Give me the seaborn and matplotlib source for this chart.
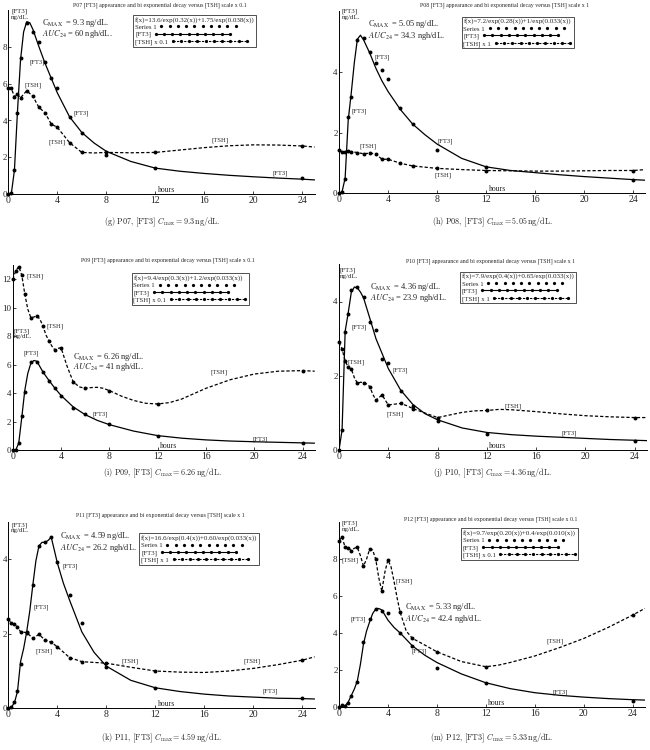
import matplotlib
matplotlib.use("Agg")
import matplotlib.pyplot as plt
import seaborn as sns
import pandas as pd
from matplotlib.lines import Line2D

sns.set_theme(style="ticks")
plt.rcParams['font.family'] = ['Liberation Serif', 'DejaVu Serif']
plt.rcParams['mathtext.fontset'] = 'stix'

# ---------------- data ----------------
hours = [0, 0.25, 0.5, 0.75, 1, 1.5, 2, 2.5, 3, 3.5, 4, 5, 6, 8, 12, 24]
x_ticks = [0, 4, 8, 12, 16, 20, 24]

# P07
p07_ft3 = [0, 0.05, 1.3, 4.42, 7.4, 9.3, 8.77, 8.23, 7.18, 6.28, 5.78, 4.17, 3.34, 2.13, 1.41, 0.9]
p07_tsh = [5.74, 5.74, 5.29, 5.42, 5.23, 5.61, 5.32, 4.71, 4.42, 3.81, 3.63, 2.8, 2.27, 2.27, 2.27, 2.62]
p07_fit_t = [0, 0.25, 0.5, 0.75, 1, 1.25, 1.5, 1.75, 2, 2.5, 3, 3.5, 4, 5, 6, 7, 8, 10, 12, 14, 16, 18, 20, 22, 24, 25]
p07_fit_v = [0, 0.05, 1.3, 4.5, 7.3, 8.8, 9.35, 9.3, 8.95, 8.0, 7.1, 6.3, 5.5, 4.2, 3.35, 2.78, 2.33, 1.78, 1.42, 1.25, 1.13, 1.03, 0.95, 0.88, 0.82, 0.78]
p07_tshc_t = [0, 0.25, 0.5, 0.75, 1, 1.5, 2, 2.5, 3, 3.5, 4, 5, 6, 7, 8, 10, 12, 14, 16, 18, 20, 22, 24, 25]
p07_tshc_v = [5.74, 5.74, 5.29, 5.42, 5.23, 5.61, 5.32, 4.71, 4.42, 3.81, 3.63, 2.8, 2.27, 2.24, 2.27, 2.25, 2.27, 2.4, 2.53, 2.63, 2.68, 2.67, 2.62, 2.56]

# P08
p08_ft3 = [0, 0.05, 0.47, 2.5, 3.18, 5.05, 5.1, 4.64, 4.28, 4.04, 3.77, 2.82, 2.28, 1.42, 0.88, 0.44]
p08_tsh = [1.41, 1.37, 1.37, 1.39, 1.37, 1.34, 1.30, 1.32, 1.30, 1.12, 1.12, 0.99, 0.90, 0.82, 0.75, 0.75]
p08_fit_t = [0, 0.25, 0.5, 0.75, 1, 1.25, 1.5, 1.75, 2, 2.5, 3, 3.5, 4, 5, 6, 7, 8, 10, 12, 14, 16, 18, 20, 22, 24, 25]
p08_fit_v = [0, 0.05, 0.5, 2.4, 3.3, 4.3, 5.07, 5.2, 5.05, 4.62, 4.12, 3.7, 3.35, 2.76, 2.28, 1.93, 1.62, 1.15, 0.87, 0.75, 0.68, 0.61, 0.55, 0.5, 0.45, 0.43]
p08_tshc_t = [0, 0.25, 0.5, 0.75, 1, 1.5, 2, 2.5, 3, 3.5, 4, 5, 6, 8, 10, 12, 14, 16, 18, 20, 22, 24, 25]
p08_tshc_v = [1.41, 1.37, 1.37, 1.39, 1.37, 1.34, 1.30, 1.32, 1.30, 1.12, 1.12, 0.99, 0.90, 0.82, 0.78, 0.75, 0.74, 0.73, 0.73, 0.74, 0.75, 0.75, 0.78]

# P09
p09_ft3 = [0, 0.02, 0.54, 2.43, 4.12, 6.18, 6.2, 5.47, 4.87, 4.4, 3.84, 2.99, 2.53, 1.82, 1.0, 0.54]
p09_tsh = [12.0, 12.58, 12.89, 12.3, 10.97, 9.31, 9.43, 8.73, 7.67, 7.04, 7.2, 4.82, 4.35, 4.19, 3.25, 5.59]
p09_fit_t = [0, 0.25, 0.5, 0.75, 1, 1.25, 1.5, 1.75, 2, 2.5, 3, 3.5, 4, 5, 6, 7, 8, 10, 12, 14, 16, 18, 20, 22, 24, 25]
p09_fit_v = [0, 0.02, 0.5, 2.3, 4.2, 5.4, 6.1, 6.3, 6.25, 5.5, 4.9, 4.35, 3.85, 3.05, 2.5, 2.1, 1.8, 1.35, 1.03, 0.85, 0.73, 0.65, 0.6, 0.56, 0.52, 0.5]
p09_tshc_t = [0, 0.25, 0.5, 0.75, 1, 1.25, 1.5, 1.75, 2, 2.25, 2.5, 2.75, 3, 3.25, 3.5, 3.75, 4, 4.5, 5, 5.5, 6, 6.5, 7, 7.5, 8, 9, 10, 11, 12, 13, 14, 16, 18, 20, 22, 24, 25]
p09_tshc_v = [12.0, 12.58, 12.89, 12.3, 10.97, 9.9, 9.31, 9.35, 9.43, 9.2, 8.73, 8.1, 7.67, 7.3, 7.04, 7.15, 7.2, 5.9, 4.82, 4.45, 4.35, 4.4, 4.42, 4.35, 4.19, 3.8, 3.5, 3.3, 3.25, 3.35, 3.6, 4.35, 4.95, 5.35, 5.55, 5.59, 5.55]

# P10
p10_ft3 = [0, 0.55, 3.17, 3.66, 4.31, 4.39, 4.12, 3.46, 3.24, 2.45, 2.36, 1.6, 1.2, 0.8, 0.44, 0.26]
p10_tsh = [2.9, 2.72, 2.40, 2.23, 2.18, 1.8, 1.82, 1.71, 1.35, 1.49, 1.22, 1.26, 1.12, 0.88, 1.07, 0.88]
p10_fit_t = [0, 0.25, 0.5, 0.75, 1, 1.25, 1.5, 1.75, 2, 2.5, 3, 3.5, 4, 5, 6, 7, 8, 10, 12, 14, 16, 18, 20, 22, 24, 25]
p10_fit_v = [0, 0.55, 3.2, 3.7, 4.25, 4.39, 4.36, 4.25, 4.09, 3.55, 3.0, 2.6, 2.2, 1.62, 1.23, 0.98, 0.82, 0.6, 0.48, 0.42, 0.38, 0.35, 0.32, 0.29, 0.27, 0.26]
p10_tshc_t = [0, 0.25, 0.5, 0.75, 1, 1.25, 1.5, 1.75, 2, 2.25, 2.5, 2.75, 3, 3.25, 3.5, 3.75, 4, 4.5, 5, 5.5, 6, 7, 8, 9, 10, 11, 12, 13, 14, 16, 18, 20, 22, 24, 25]
p10_tshc_v = [2.9, 2.72, 2.40, 2.23, 2.18, 1.95, 1.8, 1.83, 1.82, 1.78, 1.71, 1.5, 1.35, 1.42, 1.49, 1.35, 1.22, 1.24, 1.26, 1.2, 1.12, 1.0, 0.88, 0.95, 1.02, 1.06, 1.07, 1.1, 1.09, 1.04, 0.98, 0.93, 0.9, 0.88, 0.88]

# P11
p11_ft3 = [0, 0.04, 0.16, 0.46, 1.2, 2.05, 3.3, 4.35, 4.45, 4.58, 3.91, 3.04, 2.28, 1.1, 0.55, 0.28]
p11_tsh = [2.39, 2.29, 2.25, 2.19, 2.05, 2.03, 1.88, 1.98, 1.83, 1.77, 1.65, 1.36, 1.25, 1.21, 1.0, 1.29]
p11_fit_t = [0, 0.25, 0.5, 0.75, 1, 1.25, 1.5, 1.75, 2, 2.25, 2.5, 2.75, 3, 3.25, 3.5, 3.75, 4, 4.5, 5, 6, 7, 8, 10, 12, 14, 16, 18, 20, 22, 24, 25]
p11_fit_v = [0, 0.03, 0.15, 0.45, 1.25, 1.6, 2.05, 2.6, 3.3, 3.95, 4.35, 4.45, 4.45, 4.5, 4.59, 4.25, 3.9, 3.35, 2.9, 2.05, 1.5, 1.13, 0.75, 0.55, 0.45, 0.38, 0.33, 0.3, 0.27, 0.26, 0.25]
p11_tshc_t = [0, 0.25, 0.5, 0.75, 1, 1.5, 2, 2.5, 3, 3.5, 4, 5, 6, 7, 8, 10, 12, 14, 16, 18, 20, 22, 24, 25]
p11_tshc_v = [2.39, 2.29, 2.25, 2.19, 2.05, 2.03, 1.88, 1.98, 1.83, 1.77, 1.65, 1.36, 1.25, 1.23, 1.21, 1.1, 1.0, 0.97, 0.96, 1.0, 1.07, 1.17, 1.29, 1.38]

# P12
p12_ft3 = [0, 0.08, 0.05, 0.22, 0.58, 1.36, 3.49, 4.76, 5.3, 5.19, 5.1, 3.98, 3.29, 2.08, 1.3, 0.33]
p12_tsh = [9.0, 9.22, 8.64, 8.63, 8.46, 8.64, 7.63, 8.54, 8.01, 6.27, 7.96, 5.12, 3.71, 2.98, 2.17, 4.97]
p12_fit_t = [0, 0.25, 0.5, 0.75, 1, 1.25, 1.5, 1.75, 2, 2.25, 2.5, 2.75, 3, 3.25, 3.5, 4, 4.5, 5, 6, 7, 8, 10, 12, 14, 16, 18, 20, 22, 24, 25]
p12_fit_v = [0, 0.02, 0.05, 0.25, 0.6, 0.95, 1.4, 2.3, 3.4, 4.1, 4.6, 5.05, 5.3, 5.33, 5.25, 4.7, 4.3, 4.0, 3.3, 2.8, 2.4, 1.78, 1.3, 0.98, 0.76, 0.62, 0.52, 0.44, 0.38, 0.36]
p12_tshc_t = [0, 0.25, 0.5, 0.75, 1, 1.25, 1.5, 1.75, 2, 2.25, 2.5, 2.75, 3, 3.25, 3.5, 3.75, 4, 4.25, 4.5, 4.75, 5, 5.5, 6, 7, 8, 10, 12, 13, 14, 16, 18, 20, 22, 24, 25]
p12_tshc_v = [9.0, 9.22, 8.64, 8.63, 8.46, 8.6, 8.64, 8.2, 7.63, 8.0, 8.54, 8.5, 8.01, 7.0, 6.27, 7.3, 7.96, 7.6, 6.8, 5.9, 5.12, 4.1, 3.71, 3.35, 2.98, 2.45, 2.17, 2.25, 2.4, 2.75, 3.2, 3.7, 4.3, 4.97, 5.33]

patients = ["P07", "P08", "P09", "P10", "P11", "P12"]
letters = ["g", "h", "i", "j", "k", "m"]
cmax = ["9.3", "5.05", "6.26", "4.36", "4.59", "5.33"]
auc = ["60", "34.3", "41", "23.9", "26.2", "42.4"]
tsh_scale = ["0.1", "1", "0.1", "1", "1", "0.1"]
formulas = [
    "f(x)=13.6/exp(0.32(x))+1.75/exp(0.038(x))",
    "f(x)=7.2/exp(0.28(x))+1/exp(0.033(x))",
    "f(x)=9.4/exp(0.3(x))+1.2/exp(0.033(x))",
    "f(x)=7.9/exp(0.4(x))+0.65/exp(0.033(x))",
    "f(x)=16.6/exp(0.4(x))+0.60/exp(0.033(x))",
    "f(x)=9.7/exp(0.20(x))+0.4/exp(0.010(x))",
]
ft3_data = [p07_ft3, p08_ft3, p09_ft3, p10_ft3, p11_ft3, p12_ft3]
tsh_data = [p07_tsh, p08_tsh, p09_tsh, p10_tsh, p11_tsh, p12_tsh]
fit_t = [p07_fit_t, p08_fit_t, p09_fit_t, p10_fit_t, p11_fit_t, p12_fit_t]
fit_v = [p07_fit_v, p08_fit_v, p09_fit_v, p10_fit_v, p11_fit_v, p12_fit_v]
tshc_t = [p07_tshc_t, p08_tshc_t, p09_tshc_t, p10_tshc_t, p11_tshc_t, p12_tshc_t]
tshc_v = [p07_tshc_v, p08_tshc_v, p09_tshc_v, p10_tshc_v, p11_tshc_v, p12_tshc_v]
y_max = [10, 6, 13, 5, 5, 10]
y_ticks = [[0, 2, 4, 6, 8], [0, 2, 4], [0, 2, 4, 6, 8, 10, 12], [0, 2, 4], [0, 2, 4], [0, 2, 4, 6, 8]]

# in-plot curve labels (text, hour, value)
curve_labels = [
    [("[FT3]", 2.37, 7.15), ("[TSH]", 2.0, 5.92), ("[FT3]", 5.96, 4.39), ("[TSH]", 3.95, 2.8), ("[TSH]", 17.3, 2.94), ("[FT3]", 22.2, 1.14)],
    [("[FT3]", 3.53, 4.48), ("[FT3]", 1.68, 2.69), ("[TSH]", 2.39, 1.54), ("[FT3]", 8.64, 1.70), ("[TSH]", 8.5, 0.6)],
    [("[TSH]", 1.82, 12.23), ("[TSH]", 3.48, 8.73), ("[FT3]", 1.52, 6.81), ("[FT3]", 7.23, 2.53), ("[TSH]", 17.1, 5.45), ("[FT3]", 20.5, 0.77)],
    [("[FT3]", 1.62, 3.3), ("[TSH]", 1.35, 2.36), ("[FT3]", 5.0, 2.16), ("[TSH]", 4.54, 0.98), ("[TSH]", 14.1, 1.19), ("[FT3]", 18.7, 0.46)],
    [("[FT3]", 5.03, 3.81), ("[FT3]", 2.72, 2.71), ("[TSH]", 2.88, 1.54), ("[TSH]", 9.96, 1.27), ("[TSH]", 19.9, 1.25), ("[FT3]", 21.4, 0.46)],
    [("[TSH]", 0.87, 7.96), ("[TSH]", 5.34, 6.78), ("[FT3]", 1.58, 4.74), ("[FT3]", 6.59, 3.02), ("[TSH]", 17.7, 3.53), ("[FT3]", 18.1, 0.78)],
]

# ---------------- layout (pixels) ----------------
W, H = 650, 750
boxes = [(8.3, 314.6, 9.8, 194.3), (339, 645.5, 10.9, 193.3),
         (12.7, 314.7, 265, 450.3), (339, 647, 264.3, 450.3),
         (8.3, 314.6, 521.8, 708.3), (339, 644.8, 522.4, 706.7)]
title_pos = [(160, 5), (505, 5), (168, 260.7), (490, 261.7), (160, 515.7), (491, 519)]
ylab_pos = [(11, 9), (342, 9), (14, 328), (340, 268), (11, 522), (342, 521)]
ann_pos = [(41.7, 23.3, 34.0), (367.7, 24.3, 35.7), (73.3, 356.6, 367.4), (370, 286.6, 298.4), (60, 536.0, 548.0), (405, 606.8, 618.6)]
leg_pos = [(133.3, 15), (461.7, 16.7), (131.7, 273.3), (460, 271.7), (139.3, 533.3), (461, 528.3)]
cap_pos = [(162, 222), (492, 222), (162, 473), (492, 473), (161, 738), (492, 738)]


def fx(px):
    return px / W


def fy(py):
    return 1 - py / H


fig = plt.figure(figsize=(6.5, 7.5), dpi=100)
fig.patch.set_facecolor("white")

for i in range(6):
    l, r, t, b = boxes[i]
    ax = fig.add_axes([fx(l), fy(b), (r - l) / W, (b - t) / H])
    ax.set_facecolor("white")

    fit_df = pd.DataFrame({"t": fit_t[i], "v": fit_v[i]})
    sns.lineplot(data=fit_df, x="t", y="v", ax=ax, color="black", lw=0.9,
                 sort=False, estimator=None, zorder=2)
    tsh_df = pd.DataFrame({"t": tshc_t[i], "v": tshc_v[i]})
    sns.lineplot(data=tsh_df, x="t", y="v", ax=ax, color="black", lw=0.9,
                 sort=False, estimator=None, linestyle=(0, (2.6, 1.6)), zorder=2)
    pts = pd.DataFrame({"t": hours + hours, "v": ft3_data[i] + tsh_data[i]})
    sns.scatterplot(data=pts, x="t", y="v", ax=ax, color="black", s=8,
                    linewidth=0, zorder=4, clip_on=False)

    ax.set_xlim(0, 25)
    ax.set_ylim(0, y_max[i])
    ax.set_xticks(x_ticks)
    ax.set_yticks(y_ticks[i])
    ax.set_xlabel("")
    ax.set_ylabel("")
    ax.tick_params(axis="x", labelsize=7, length=2, width=0.6, pad=1.5, direction="in")
    ax.tick_params(axis="y", labelsize=6.5, length=2, width=0.6, pad=1.0, direction="in")
    sns.despine(ax=ax)
    for s in ("left", "bottom"):
        ax.spines[s].set_linewidth(0.7)
        ax.spines[s].set_color("black")

    for txt, hx, vy in curve_labels[i]:
        ax.text(hx, vy, txt, fontsize=4.8, ha="center", va="center")
    ax.text(12.9, 0.0, "hours", fontsize=5.6, ha="center", va="bottom")

    # legend
    handles = [
        Line2D([], [], ls="none", marker="o", ms=1.3, color="black"),
        Line2D([], [], ls="-", lw=0.8, marker="o", ms=1.3, color="black"),
        Line2D([], [], ls=(0, (2, 1.2)), lw=0.8, marker="o", ms=1.3, color="black"),
    ]
    labels = ["Series 1", "[FT3]", "[TSH] x " + tsh_scale[i]]
    lx, ly = leg_pos[i]
    leg = ax.legend(handles, labels, title=formulas[i], loc="upper left",
                    bbox_to_anchor=(fx(lx), fy(ly)), bbox_transform=fig.transFigure,
                    fontsize=4.9, title_fontsize=5.0, frameon=True, fancybox=False,
                    edgecolor="black", markerfirst=False, handlelength=11.5,
                    handletextpad=0.4, borderpad=0.25, labelspacing=0.2,
                    numpoints=10, borderaxespad=0, alignment="left")
    leg.get_frame().set_linewidth(0.6)
    try:
        for col in leg._legend_handle_box.get_children():
            col.align = "left"
    except Exception:
        pass

    # texts in figure coordinates
    tx, ty = title_pos[i]
    fig.text(fx(tx), fy(ty), patients[i] + " [FT3] appearance and bi exponential decay versus [TSH] scale x " + tsh_scale[i],
             fontsize=4.2, ha="center", va="center")
    yx, yy = ylab_pos[i]
    fig.text(fx(yx), fy(yy), "[FT3]\nng/dL.", fontsize=5, ha="left", va="top", linespacing=1.05)
    axp, a1, a2 = ann_pos[i]
    fig.text(fx(axp), fy(a1), r"C$_{\mathrm{MAX}}$  = " + cmax[i] + " ng/dL.", fontsize=6.0, ha="left", va="center")
    fig.text(fx(axp), fy(a2), r"$AUC_{24}$ = " + auc[i] + " ngh/dL.", fontsize=6.0, ha="left", va="center")
    cx, cy = cap_pos[i]
    fig.text(fx(cx), fy(cy), "(" + letters[i] + ") " + patients[i] + ", [FT3] $C_{\\max} = " + cmax[i] + "\\,\\mathrm{ng/dL}$.",
             fontsize=5.8, ha="center", va="center", family="cmr10", math_fontfamily="cm")

fig.savefig("out.png", dpi=100, facecolor="white")
